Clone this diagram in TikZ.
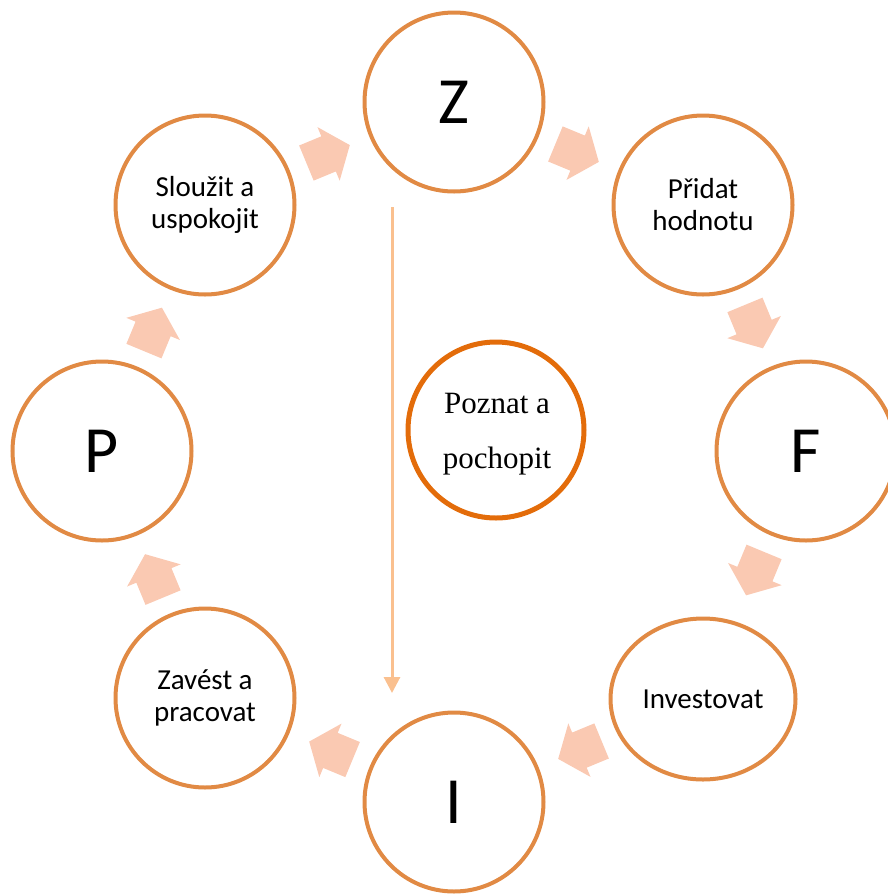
\documentclass[tikz,border=0pt]{standalone}
\usepackage{fontspec}
\setmainfont{Carlito}
\newfontfamily\serifface{Liberation Serif}
\usetikzlibrary{calc,arrows.meta,shapes.geometric}
\definecolor{ringorange}{RGB}{225,138,68}
\definecolor{coreorange}{RGB}{227,108,10}
\definecolor{arrowfill}{RGB}{250,201,178}
\definecolor{axisline}{RGB}{250,192,143}
\tikzset{
  ring/.style={circle,draw=ringorange,line width=4pt,minimum size=179pt,inner sep=0pt,
    font=\fontsize{29}{32}\selectfont,align=center},
  bigring/.style={ring,font=\fontsize{66}{70}\selectfont},
  ellring/.style={ellipse,draw=ringorange,line width=4pt,minimum width=185pt,minimum height=161pt,
    inner sep=0pt,font=\fontsize{29}{32}\selectfont,align=center},
  corering/.style={circle,draw=coreorange,line width=5pt,minimum size=176pt,inner sep=0pt},
  coretext/.style={font=\serifface\fontsize{31}{55}\selectfont,align=center,inner sep=0pt},
  axisarrow/.style={draw=axisline,line width=3pt,-{Triangle[width=16pt,length=16pt,fill=axisline]}},
  flowarrow/.pic={\fill[arrowfill] (-25,-19) -- (-1,-19) -- (-1,-29) -- (22,0) -- (-1,29) -- (-1,19) -- (-25,19) -- cycle;}
}
\begin{document}
\begin{tikzpicture}[x=1pt,y=-1pt]
\useasboundingbox (0,0) rectangle (888,895);
\node[bigring] (z) at (454,102) {Z};
\node[ring] (pr) at (703,205) {Přidat\\hodnotu};
\node[bigring] (f) at (806,451) {F};
\node[ellring] (inv) at (703,699) {Investovat};
\node[bigring] (i) at (454,802) {I};
\node[ring] (zav) at (205,698) {Zavést a\\pracovat};
\node[bigring] (p) at (102,451) {P};
\node[ring] (sl) at (205,205) {Sloužit a\\uspokojit};
\node[corering] (c) at (496,430) {};
\node[coretext] (ct) at (497,434.6) {Poznat a\\pochopit};
\pic[rotate=22.5] at ($(sl)!0.5!(z)$) {flowarrow};
\pic[rotate=-22.5] at ($(z)!0.5!(pr)$) {flowarrow};
\pic[rotate=-67.5] at ($(pr)!0.5!(f)$) {flowarrow};
\pic[rotate=-112.5] at ($(f)!0.5!(inv)$) {flowarrow};
\pic[rotate=-157.5] at ($(inv)!0.5!(i)$) {flowarrow};
\pic[rotate=157.5] at ($(i)!0.5!(zav)$) {flowarrow};
\pic[rotate=112.5] at ($(zav)!0.5!(p)$) {flowarrow};
\pic[rotate=67.5] at ($(p)!0.5!(sl)$) {flowarrow};
\coordinate (ax1) at (392,207);
\coordinate (ax2) at (392,693);
\draw[axisarrow] (ax1) -- (ax2);
\end{tikzpicture}
\end{document}
